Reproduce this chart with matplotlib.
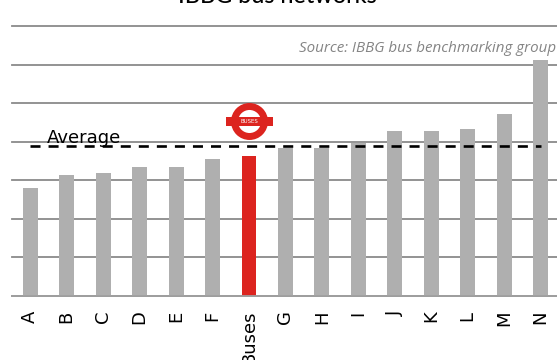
import matplotlib
matplotlib.use('Agg')
import matplotlib.pyplot as plt
from matplotlib.patches import Circle, Rectangle

W, H = 557, 360

networks = ['A', 'B', 'C', 'D', 'E', 'F', 'Buses', 'G', 'H', 'I', 'J', 'K', 'L', 'M', 'N']
values = [2.81, 3.14, 3.18, 3.35, 3.35, 3.54, 3.63, 3.85, 3.85, 3.97, 4.28, 4.29, 4.34, 4.71, 6.11]
average = 3.9
highlight = 'Buses'

fig = plt.figure(figsize=(W / 100, H / 100), dpi=100)

# left edge at 12px, baseline at 296px, one y unit is 38.57px
ax = fig.add_axes([12 / W, (H - 296) / H, 546.9 / W, 270 / H])
colors = ['#dc241f' if n == highlight else '#afafaf' for n in networks]
ax.bar(range(len(networks)), values, width=0.41, color=colors, zorder=2)
ax.plot([0, len(networks) - 1], [average, average], color='black', lw=1.9,
        dashes=(3.8, 3.04), zorder=3)

ax.set_xlim(-0.5, len(networks) - 0.5)
ax.set_ylim(0, 7)
ax.set_yticks(range(8))
ax.tick_params(left=False, labelleft=False, bottom=False, pad=7)
ax.set_xticks(range(len(networks)))
ax.set_xticklabels(networks, rotation=90, fontsize=13, color='black')
ax.grid(axis='y', color='#8a8a8a', lw=1.3, zorder=1)
ax.set_axisbelow(True)
for line in ax.get_ygridlines():
    line.set_clip_on(False)
for s in ['top', 'left', 'right']:
    ax.spines[s].set_visible(False)
ax.spines['bottom'].set_color('#a0a0a0')
ax.spines['bottom'].set_linewidth(1.3)
ax.spines['bottom'].set_zorder(4)

# overlay in pixel coordinates for the title, notes and roundel
over = fig.add_axes([0, 0, 1, 1], facecolor='none')
over.set_xlim(0, W)
over.set_ylim(H, 0)
over.axis('off')

over.text(277, 3, 'IBBG bus networks', ha='center', va='baseline', fontsize=16.8,
          family='Lato', weight='medium', color='black')
over.text(556, 52, 'Source: IBBG bus benchmarking group', ha='right', va='baseline',
          fontsize=10.9, family='Open Sans', style='italic', color='#858585')
over.text(47, 143, 'Average', ha='left', va='baseline', fontsize=13, color='black')

# bus roundel
red = '#dc241f'
over.add_patch(Circle((249.5, 121.5), 15, facecolor='white', edgecolor=red, lw=5))
over.add_patch(Rectangle((226, 117.3), 47, 8.8, facecolor=red, edgecolor='none'))
over.text(249.5, 121.8, 'BUSES', ha='center', va='center', fontsize=3.9, color='white')

fig.savefig('out.png', dpi=100)
